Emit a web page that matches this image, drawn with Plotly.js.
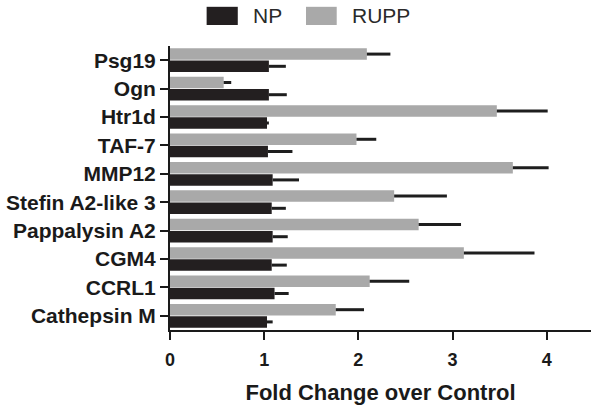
<!DOCTYPE html>
<html>
<head>
<meta charset="utf-8">
<script src="https://cdn.plot.ly/plotly-3.0.1.min.js"></script>
<style>html,body{margin:0;padding:0;background:#fff;}#chart{width:604px;height:411px;}</style>
</head>
<body>
<div id="chart"></div>
<script>
// Data (top-to-bottom as shown in the figure)
const categories = ["Psg19", "Ogn", "Htr1d", "TAF-7", "MMP12", "Stefin A2-like 3", "Pappalysin A2", "CGM4", "CCRL1", "Cathepsin M"];
const seriesNames = ["NP", "RUPP"];
const npValues   = [1.05, 1.05, 1.03, 1.04, 1.09, 1.08, 1.09, 1.08, 1.11, 1.03];
const npErr      = [0.18, 0.19, 0.02, 0.26, 0.28, 0.15, 0.16, 0.16, 0.15, 0.06];
const ruppValues = [2.09, 0.57, 3.47, 1.98, 3.64, 2.38, 2.64, 3.12, 2.12, 1.76];
const ruppErr    = [0.25, 0.08, 0.54, 0.21, 0.38, 0.56, 0.45, 0.75, 0.42, 0.30];
const xTicks = [0, 1, 2, 3, 4];
const xTitle = "Fold Change over Control";

const npColor = "#231f20";
const ruppColor = "#a9a9a9";
const errColor = "#1e1e1e";
const zeros = categories.map(() => 0);

const traces = [
  {
    type: "bar", orientation: "h", name: seriesNames[1],
    y: categories, x: ruppValues,
    marker: {color: ruppColor},
    error_x: {type: "data", array: ruppErr, arrayminus: zeros, symmetric: false, color: errColor, thickness: 3, width: 0},
    showlegend: false, hoverinfo: "x+y"
  },
  {
    type: "bar", orientation: "h", name: seriesNames[0],
    y: categories, x: npValues,
    marker: {color: npColor},
    error_x: {type: "data", array: npErr, arrayminus: zeros, symmetric: false, color: errColor, thickness: 3, width: 0},
    showlegend: false, hoverinfo: "x+y"
  }
];

const font = "'Liberation Sans', Arial, sans-serif";

// custom legend (wide swatches like the original)
const legendItems = [
  {name: seriesNames[0], color: npColor, x0: 0.087, x1: 0.161, tx: 0.192},
  {name: seriesNames[1], color: ruppColor, x0: 0.323, x1: 0.396, tx: 0.427}
];
const shapes = legendItems.map(it => ({
  type: "rect", xref: "paper", yref: "paper",
  x0: it.x0, x1: it.x1, y0: 1.074, y1: 1.138,
  fillcolor: it.color, line: {width: 0}
}));
const annotations = legendItems.map(it => ({
  xref: "paper", yref: "paper", x: it.tx, y: 1.106,
  xanchor: "left", yanchor: "middle", showarrow: false,
  text: it.name, font: {family: font, size: 21, color: "#2a2a2a"}
}));

const layout = {
  width: 604, height: 411,
  margin: {l: 170, r: 13, t: 46, b: 81, pad: 0},
  paper_bgcolor: "#fff", plot_bgcolor: "#fff",
  barmode: "group", bargap: 0.14, bargroupgap: 0.06,
  showlegend: false,
  xaxis: {
    range: [0, 4.47], tickvals: xTicks, ticktext: xTicks.map(String),
    showgrid: false, zeroline: false,
    showline: true, linecolor: "#1a1a1a", linewidth: 2,
    ticks: "outside", ticklen: 8, tickwidth: 2, tickcolor: "#1a1a1a",
    ticklabelstandoff: 4,
    tickfont: {family: font, size: 18, color: "#1a1a1a", weight: "bold"},
    title: {text: xTitle, font: {family: font, size: 22, color: "#1a1a1a", weight: "bold"}, standoff: 16}
  },
  yaxis: {
    type: "category", autorange: "reversed",
    showgrid: false, zeroline: false,
    showline: true, linecolor: "#1a1a1a", linewidth: 2,
    ticks: "outside", ticklen: 8, tickwidth: 2, tickcolor: "#1a1a1a",
    tickfont: {family: font, size: 21, color: "#1a1a1a", weight: "bold"}
  },
  shapes: shapes,
  annotations: annotations
};

Plotly.newPlot("chart", traces, layout, {displayModeBar: false, staticPlot: true});
</script>
</body>
</html>
